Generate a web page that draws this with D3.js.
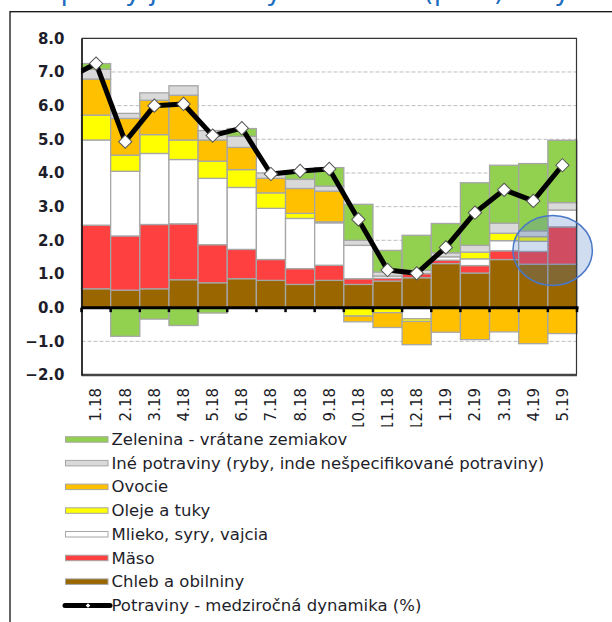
<!DOCTYPE html>
<html>
<head>
<meta charset="utf-8">
<script src="https://cdn.jsdelivr.net/npm/d3@7"></script>
<style>
  body { margin: 0; background: #fff; }
  svg { display: block; }
  text { font-family: "DejaVu Sans", Verdana, sans-serif; }
</style>
</head>
<body>
<svg id="chart" width="612" height="622"></svg>
<script>
var months = ["1.18","2.18","3.18","4.18","5.18","6.18","7.18","8.18","9.18","10.18","11.18","12.18","1.19","2.19","3.19","4.19","5.19"];

// contributions (p.b.), bottom to top
var chleb    = [0.56,0.52,0.56,0.83,0.74,0.86,0.81,0.69,0.81,0.69,0.79,0.89,1.31,1.03,1.43,1.29,1.29];
var maso     = [1.89,1.61,1.91,1.66,1.13,0.87,0.62,0.47,0.45,0.17,0.08,0.12,0.10,0.22,0.26,0.38,1.11];
var mlieko   = [2.53,1.92,2.11,1.91,1.97,1.84,1.52,1.49,1.26,0.99,0.07,-0.33,0.10,0.20,0.30,0.30,0.50];
var oleje    = [0.74,0.48,0.56,0.58,0.51,0.53,0.46,0.15,0.03,-0.25,-0.15,-0.08,0,0.20,0.22,0.14,0];
var ovocie   = [1.07,1.09,1.02,1.33,0.63,0.66,0.43,0.74,0.91,-0.17,-0.44,-0.69,-0.73,-0.95,-0.72,-1.07,-0.77];
var ine      = [0.29,0.15,0.22,0.28,0.28,0.33,0.16,0.27,0.15,0.15,0.12,0.10,0.12,0.20,0.30,0.17,0.22];
var zelenina = [0.17,-0.85,-0.34,-0.53,-0.16,0.23,0,0.22,0.55,1.07,0.64,1.04,0.87,1.86,1.72,2.00,1.85];

// food y/y (%), plus the month before the window (12.17)
var potraviny = [7.25,4.93,6.00,6.05,5.11,5.33,3.97,4.06,4.12,2.62,1.12,1.02,1.79,2.82,3.50,3.17,4.23];
var potravinyPrev = 6.8;

var seriesNames = ["Chleb a obilniny","Mäso","Mlieko, syry, vajcia","Oleje a tuky","Ovocie","Iné potraviny (ryby, inde nešpecifikované potraviny)","Zelenina - vrátane zemiakov"];
var seriesColors = ["#996600","#ff4040","#ffffff","#ffff00","#ffc000","#d9d9d9","#92d050"];
var lineName = "Potraviny - medziročná dynamika (%)";
var yTicks = [-2,-1,0,1,2,3,4,5,6,7,8];
var titleText = "Príspevky jednotlivých zložiek (p. b.) k dynamike cien potravín";

var seriesData = [chleb, maso, mlieko, oleje, ovocie, ine, zelenina];
var keys = seriesNames.map((n, i) => "s" + i);
var table = months.map((m, j) => {
  var row = {month: m};
  keys.forEach((k, i) => { row[k] = seriesData[i][j]; });
  return row;
});

var plot = {left: 81.5, right: 577, top: 38.3, bottom: 375};

var svg = d3.select("#chart");

// title, cut by the top of the picture (only descenders show)
svg.append("text")
  .attr("x", 12).attr("y", 0)
  .attr("font-family", "'Liberation Serif', serif")
  .attr("font-size", 27)
  .attr("fill", "#1f6dc0")
  .text(titleText);

// outer frame
svg.append("rect")
  .attr("x", 10).attr("y", 11.7)
  .attr("width", 700).attr("height", 700)
  .attr("fill", "none").attr("stroke", "#111").attr("stroke-width", 1.3);

var x = d3.scaleBand()
  .domain(months)
  .range([plot.left, plot.right])
  .padding(0);

var y = d3.scaleLinear()
  .domain([-2, 8])
  .range([plot.bottom, plot.top]);

// gridlines
svg.append("g")
  .selectAll("line")
  .data(yTicks.filter(t => t > -2 && t < 8 && t != 0))
  .enter().append("line")
    .attr("x1", plot.left).attr("x2", plot.right)
    .attr("y1", d => y(d)).attr("y2", d => y(d))
    .attr("stroke", "#bdbdbd")
    .attr("stroke-dasharray", "4,2");

// stacked bars
var stack = d3.stack().keys(keys).offset(d3.stackOffsetDiverging);
var stacked = stack(table);

svg.append("g")
  .selectAll("g")
  .data(stacked)
  .enter().append("g")
    .attr("fill", (d, i) => seriesColors[i])
  .selectAll("rect")
  .data(d => d.filter(p => p[1] - p[0] != 0))
  .enter().append("rect")
    .attr("x", d => x(d.data.month))
    .attr("width", x.bandwidth())
    .attr("y", d => y(d[1]))
    .attr("height", d => y(d[0]) - y(d[1]))
    .attr("stroke", "#a6a6a6")
    .attr("stroke-width", 1.3);

// plot frame
svg.append("line")
  .attr("x1", plot.left).attr("x2", plot.right)
  .attr("y1", plot.top).attr("y2", plot.top)
  .attr("stroke", "#333").attr("stroke-width", 1.2);
svg.append("line")
  .attr("x1", plot.right - 0.5).attr("x2", plot.right - 0.5)
  .attr("y1", plot.top).attr("y2", plot.bottom)
  .attr("stroke", "#333").attr("stroke-width", 1.2);
svg.append("line")
  .attr("x1", plot.left).attr("x2", plot.right)
  .attr("y1", plot.bottom).attr("y2", plot.bottom)
  .attr("stroke", "#444").attr("stroke-width", 2.5);

// y axis
var yAxis = d3.axisLeft(y).tickValues(yTicks).tickSize(0).tickPadding(17)
  .tickFormat(d3.format(".1f"));
var yg = svg.append("g")
  .attr("transform", "translate(" + plot.left + ",0)")
  .call(yAxis);
yg.select(".domain").attr("stroke", "#111").attr("stroke-width", 1.7);
yg.selectAll("text")
  .attr("font-family", "'DejaVu Sans', Verdana, sans-serif")
  .attr("font-size", 15)
  .attr("font-weight", "bold")
  .attr("fill", "#1e1e2a");

// zero line with ticks at category borders
svg.append("line")
  .attr("x1", plot.left).attr("x2", plot.right + 1.5)
  .attr("y1", y(0)).attr("y2", y(0))
  .attr("stroke", "#000").attr("stroke-width", 3);
svg.append("g")
  .selectAll("line")
  .data(months.concat(["end"]))
  .enter().append("line")
    .attr("x1", (d, i) => plot.left + i * x.step())
    .attr("x2", (d, i) => plot.left + i * x.step())
    .attr("y1", y(0)).attr("y2", y(0) + 4.5)
    .attr("stroke", "#000").attr("stroke-width", 2.5);

// x labels
svg.append("g")
  .selectAll("text")
  .data(months)
  .enter().append("text")
    .attr("transform", d => "translate(" + (x(d) + x.bandwidth() / 2) + ",388) rotate(-90)")
    .attr("text-anchor", "end")
    .attr("dy", "0.36em")
    .attr("font-size", 15)
    .attr("fill", "#1e1e2a")
    .text(d => d);

// food line
svg.append("clipPath").attr("id", "plotClip")
  .append("rect")
    .attr("x", plot.left).attr("y", plot.top)
    .attr("width", plot.right - plot.left).attr("height", plot.bottom - plot.top);

var pts = [{px: x(months[0]) + x.bandwidth() / 2 - x.step(), v: potravinyPrev}]
  .concat(months.map((m, i) => ({px: x(m) + x.bandwidth() / 2, v: potraviny[i]})));

var line = d3.line().x(d => d.px).y(d => y(d.v));
svg.append("path")
  .datum(pts)
  .attr("clip-path", "url(#plotClip)")
  .attr("d", line)
  .attr("fill", "none")
  .attr("stroke", "#000")
  .attr("stroke-width", 5)
  .attr("stroke-linejoin", "round");

var diamond = d3.symbol().type(d3.symbolSquare).size(88);
svg.append("g")
  .selectAll("path")
  .data(pts.slice(1))
  .enter().append("path")
    .attr("transform", d => "translate(" + d.px + "," + y(d.v) + ") rotate(45)")
    .attr("d", diamond)
    .attr("fill", "#fff")
    .attr("stroke", "#555")
    .attr("stroke-width", 1);

// highlight ellipse
svg.append("ellipse")
  .attr("cx", x(months[16]) + 4.8)
  .attr("cy", y(1.7))
  .attr("rx", 39.7).attr("ry", 35)
  .attr("fill", "#4472c4").attr("fill-opacity", 0.25)
  .attr("stroke", "#4a78c8").attr("stroke-width", 1.5);

// legend (its white box hides the bottom of the long month labels)
svg.append("rect")
  .attr("x", 40).attr("y", 426.5)
  .attr("width", 560).attr("height", 196)
  .attr("fill", "#fff");

var legendItems = seriesNames.map((n, i) => ({name: n, color: seriesColors[i]})).reverse();
var lg = svg.append("g");
var rowY = i => 445 + i * 23.7;

legendItems.forEach((d, i) => {
  lg.append("rect")
    .attr("x", 65.5).attr("y", rowY(i) - 8.3)
    .attr("width", 42.5).attr("height", 5.5)
    .attr("fill", d.color)
    .attr("stroke", "#a6a6a6").attr("stroke-width", 1);
  lg.append("text")
    .attr("x", 111.5).attr("y", rowY(i))
    .attr("font-size", 16.5)
    .attr("fill", "#1e1e2a")
    .text(d.name);
});

var li = legendItems.length;
lg.append("line")
  .attr("x1", 65).attr("x2", 110)
  .attr("y1", rowY(li) - 5.5).attr("y2", rowY(li) - 5.5)
  .attr("stroke", "#000").attr("stroke-width", 5).attr("stroke-linecap", "round");
lg.append("path")
  .attr("transform", "translate(88," + (rowY(li) - 5.5) + ") rotate(45)")
  .attr("d", d3.symbol().type(d3.symbolSquare).size(10))
  .attr("fill", "#fff");
lg.append("text")
  .attr("x", 111.5).attr("y", rowY(li))
  .attr("font-size", 16.5)
  .attr("fill", "#1e1e2a")
  .text(lineName);
</script>
</body>
</html>
